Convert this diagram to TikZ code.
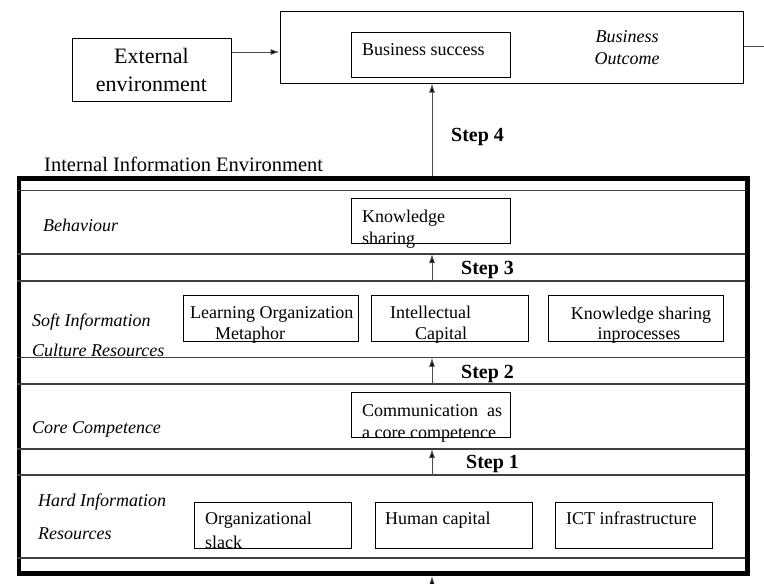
\documentclass[tikz,border=0pt]{standalone}
\usepackage{fontspec}
\setmainfont{Liberation Serif}
\usetikzlibrary{arrows.meta}
\begin{document}
\begin{tikzpicture}[x=1pt,y=-1pt,
  box/.style={draw, line width=1pt, inner sep=0pt, anchor=north west},
  txt/.style={anchor=base west, inner sep=0pt, font=\fontsize{18pt}{21pt}\selectfont},
  ctxt/.style={anchor=base, inner sep=0pt, font=\fontsize{18pt}{21pt}\selectfont},
  lab/.style={anchor=base west, inner sep=0pt, font=\fontsize{18pt}{21pt}\selectfont\itshape},
  steplab/.style={anchor=base west, inner sep=0pt, font=\fontsize{20pt}{24pt}\selectfont\bfseries},
  band/.style={line width=1.2pt, draw=black!75},
  arr/.style={line width=0.9pt, draw=black!70, -{Latex[length=9pt,width=6pt,fill=black]}}
]
\useasboundingbox (0,0) rectangle (764,584);

% top
\node[box, minimum width=159pt, minimum height=63pt, anchor=center, align=center,
      font=\fontsize{22pt}{28pt}\selectfont] (ext) at (151.5,69.5) {External\\environment};
\node[box, minimum width=463pt, minimum height=72pt, anchor=center] (outcome) at (511.5,47) {};
\node[box, minimum width=159pt, minimum height=45pt] (bs) at (351,32) {};
\node[txt] (bst) at (362,55) {Business success};
\node[align=center, inner sep=0pt, font=\fontsize{18pt}{22pt}\selectfont\itshape] (bo) at (627,48) {Business\\Outcome};
\coordinate (ea) at (0,52);
\draw[arr] (ext.east |- ea) -- (outcome.west |- ea);
\coordinate (rend) at (764,46);
\draw[line width=1pt, draw=black!70] (outcome.east |- rend) -- (rend);

\node[anchor=base west, inner sep=0pt, font=\fontsize{20.5pt}{24pt}\selectfont] (iie) at (44,171) {Internal Information Environment};

% big box
\node[draw, line width=4.5pt, minimum width=728.5pt, minimum height=395pt, anchor=north west, inner sep=0pt] (big) at (16.5,176) {};

% band lines
\foreach \y in {190.7,254,281,357.7,384,449,475,558}
  \draw[band] (16.5,\y) -- (745,\y);

% Step 4
\coordinate (s4a) at (432,176);
\draw[arr] (s4a) -- (outcome.south -| s4a);
\node[steplab] (s4) at (451,141) {Step 4};

% Behaviour band
\node[lab] (beh) at (43,231) {Behaviour};
\node[box, minimum width=159pt, minimum height=45pt] (ks) at (351,198) {};
\node[txt] (ks1) at (362,222) {Knowledge};
\node[txt] (ks2) at (362,244) {sharing};

% Step 3
\coordinate (s3a) at (432,281);
\coordinate (s3b) at (432,254);
\draw[arr] (s3a) -- (s3b);
\node[steplab] (s3) at (461,274.5) {Step 3};

% Soft band
\node[lab] (soft1) at (32,326) {Soft Information};
\node[lab] (soft2) at (32,356) {Culture Resources};
\node[box, minimum width=175pt, minimum height=46pt] (lom) at (183,295) {};
\node[txt] (lom1) at (190,318) {Learning Organization};
\node[txt] (lom2) at (215,339) {Metaphor};
\node[box, minimum width=157pt, minimum height=46pt] (ic) at (371,295) {};
\node[txt] (ic1) at (390,318) {Intellectual};
\node[txt] (ic2) at (415,339) {Capital};
\node[box, minimum width=175pt, minimum height=46pt] (ksp) at (548,295) {};
\node[ctxt] (ksp1) at (641,319) {Knowledge sharing};
\node[ctxt] (ksp2) at (639,339) {inprocesses};

% Step 2
\coordinate (s2a) at (432,384);
\coordinate (s2b) at (432,357.7);
\draw[arr] (s2a) -- (s2b);
\node[steplab] (s2) at (461,378) {Step 2};

% Core band
\node[lab] (core) at (32,433) {Core Competence};
\node[box, minimum width=159pt, minimum height=45pt] (comm) at (351,392) {};
\node[txt] (comm1) at (362,416) {Communication\ \ as};
\node[txt] (comm2) at (362,438) {a core competence};

% Step 1
\coordinate (s1a) at (432,475);
\coordinate (s1b) at (432,449);
\draw[arr] (s1a) -- (s1b);
\node[steplab] (s1) at (466,468) {Step 1};

% Hard band
\node[lab] (hard1) at (38,506) {Hard Information};
\node[lab] (hard2) at (38,539) {Resources};
\node[box, minimum width=157pt, minimum height=46pt] (os) at (194,502) {};
\node[txt] (os1) at (205,524) {Organizational};
\node[txt] (os2) at (205,548) {slack};
\node[box, minimum width=157pt, minimum height=46pt] (hc) at (375,502) {};
\node[txt] (hc1) at (385,524) {Human capital};
\node[box, minimum width=157pt, minimum height=46pt] (ict) at (555,502) {};
\node[txt] (ict1) at (566,524) {ICT infrastructure};

% bottom arrow
\coordinate (b0) at (432,592);
\coordinate (b1) at (432,576);
\draw[arr] (b0) -- (b1);
\end{tikzpicture}
\end{document}
